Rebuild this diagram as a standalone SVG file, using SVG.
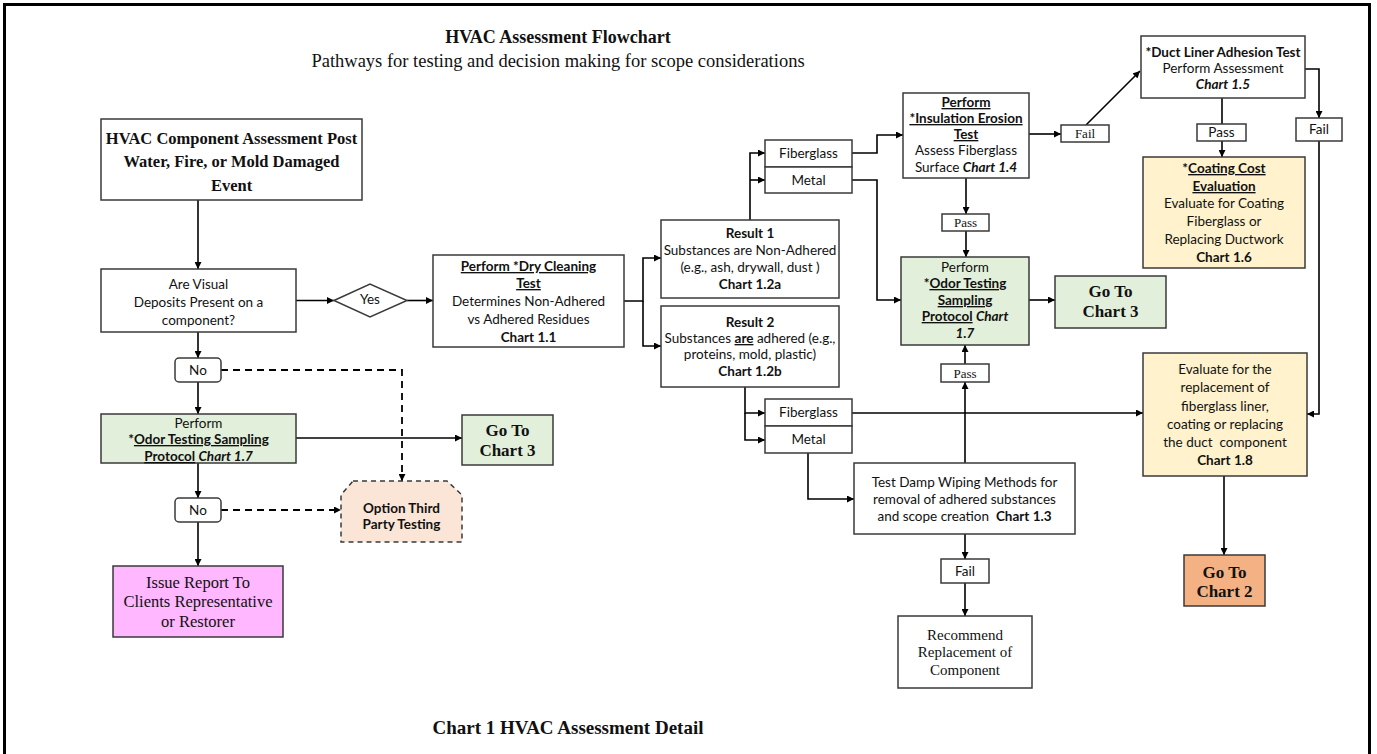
<svg xmlns="http://www.w3.org/2000/svg" width="1377" height="754" viewBox="0 0 1377 754">
<style>
.bx{fill:#fff;stroke:#3a3a3a;stroke-width:1.5}
.green{fill:#E2EFDA}
.yellow{fill:#FFF2CC}
.orange{fill:#F4B183}
.pink{fill:#FFB7FF}
.peach{fill:#FBE5D6;stroke-dasharray:5 4}
.c{font-family:Lato,"Liberation Sans",sans-serif;font-size:13.5px;fill:#111;text-anchor:middle}
.s{font-family:"Liberation Serif","Times New Roman",serif;fill:#111;text-anchor:middle}
.b{font-weight:bold}
.i{font-style:italic}
.u{text-decoration:underline}
.conn path{fill:none;stroke:#000;stroke-width:1.6}
.conn path.dash{stroke-dasharray:7 5;stroke-width:1.8}
</style>
<defs>
<marker id="ah" viewBox="0 0 10 10" refX="10" refY="5" markerWidth="8" markerHeight="7" orient="auto" markerUnits="userSpaceOnUse">
<path d="M0,0 L10,5 L0,10 Z" fill="#000"/>
</marker>
</defs>
<rect x="0" y="0" width="1377" height="754" fill="#fff"/>
<path d="M4.5,754 V4.5 H1369.5 V754" fill="none" stroke="#000" stroke-width="3"/>

<g id="titles">
<text class="s b" x="558" y="43" font-size="18">HVAC Assessment Flowchart</text>
<text class="s" x="558" y="67" font-size="18.5">Pathways for testing and decision making for scope considerations</text>
<text class="s b" x="568" y="734" font-size="19">Chart 1 HVAC Assessment Detail</text>
</g>

<g class="conn" id="connectors">
<path d="M198,200 V269" marker-end="url(#ah)"/>
<path d="M296,300.5 H334" marker-end="url(#ah)"/>
<path d="M407,300.5 H433" marker-end="url(#ah)"/>
<path d="M624,301 H643 V258 H661" marker-end="url(#ah)"/>
<path d="M643,301 V346 H661" marker-end="url(#ah)"/>
<path d="M750,220 V153 H765" marker-end="url(#ah)"/>
<path d="M750,180 H765" marker-end="url(#ah)"/>
<path d="M852,153 H877 V135 H903" marker-end="url(#ah)"/>
<path d="M852,180 H877 V300 H901" marker-end="url(#ah)"/>
<path d="M966,178 V214" marker-end="url(#ah)"/>
<path d="M966,231 V257" marker-end="url(#ah)"/>
<path d="M1029,300 H1055" marker-end="url(#ah)"/>
<path d="M1029,134 H1061" marker-end="url(#ah)"/>
<path d="M1086,125 L1140,71" marker-end="url(#ah)"/>
<path d="M1222,98 V124"/>
<path d="M1222,141 V157" marker-end="url(#ah)"/>
<path d="M1305,69 H1319 V118" marker-end="url(#ah)"/>
<path d="M1319,141 V414 H1307" marker-end="url(#ah)"/>
<path d="M852,413 H1143" marker-end="url(#ah)"/>
<path d="M745,387 V413 H765" marker-end="url(#ah)"/>
<path d="M745,413 V440 H765" marker-end="url(#ah)"/>
<path d="M808,453 V499 H854" marker-end="url(#ah)"/>
<path d="M965,463 V382" marker-end="url(#ah)"/>
<path d="M965,364 V345" marker-end="url(#ah)"/>
<path d="M965,534 V559" marker-end="url(#ah)"/>
<path d="M965,583 V616" marker-end="url(#ah)"/>
<path d="M1224,476 V555" marker-end="url(#ah)"/>
<path d="M198,332 V358" marker-end="url(#ah)"/>
<path d="M198,382 V414" marker-end="url(#ah)"/>
<path class="dash" d="M221,370 H402 V481" marker-end="url(#ah)"/>
<path d="M296,438 H462" marker-end="url(#ah)"/>
<path d="M198,463 V498" marker-end="url(#ah)"/>
<path class="dash" d="M221,510 H341" marker-end="url(#ah)"/>
<path d="M198,522 V566" marker-end="url(#ah)"/>
</g>

<g id="n-start">
<rect class="bx" x="101" y="119" width="261" height="81"/>
<text class="s b" font-size="16.5"><tspan x="231.5" y="144">HVAC Component Assessment Post</tspan><tspan x="231.5" y="167">Water, Fire, or Mold Damaged</tspan><tspan x="231.5" y="191">Event</tspan></text>
</g>

<g id="n-visual">
<rect class="bx" x="101" y="269" width="195" height="63"/>
<text class="c" font-size="14.5"><tspan x="198.5" y="289">Are Visual</tspan><tspan x="198.5" y="307">Deposits Present on a</tspan><tspan x="198.5" y="325">component?</tspan></text>
</g>

<g id="n-yes">
<polygon class="bx" points="334,300.5 370,284 407,300.5 370,317"/>
<text class="c" x="370" y="304" font-size="9.5">Yes</text>
</g>

<g id="n-dry">
<rect class="bx" x="433" y="255" width="191" height="92"/>
<text class="c" font-size="15"><tspan x="528.5" y="271" class="b u">Perform *Dry Cleaning</tspan><tspan x="528.5" y="288" class="b u">Test</tspan><tspan x="528.5" y="306">Determines Non-Adhered</tspan><tspan x="528.5" y="324">vs Adhered Residues</tspan><tspan x="528.5" y="342" class="b">Chart 1.1</tspan></text>
</g>

<g id="n-result1">
<rect class="bx" x="661" y="220" width="178" height="78"/>
<text class="c"><tspan x="750" y="238" class="b">Result 1</tspan><tspan x="750" y="255">Substances are Non-Adhered</tspan><tspan x="750" y="272">(e.g., ash, drywall, dust )</tspan><tspan x="750" y="289" class="b">Chart 1.2a</tspan></text>
</g>

<g id="n-result2">
<rect class="bx" x="661" y="306" width="178" height="81"/>
<text class="c"><tspan x="750" y="327" class="b">Result 2</tspan><tspan x="750" y="343">Substances <tspan class="b u">are</tspan> adhered (e.g.,</tspan><tspan x="750" y="359">proteins, mold, plastic)</tspan><tspan x="750" y="376" class="b">Chart 1.2b</tspan></text>
</g>

<g id="n-fiber1">
<rect class="bx" x="765" y="140" width="87" height="27"/>
<text class="c" x="808.5" y="158">Fiberglass</text>
</g>
<g id="n-metal1">
<rect class="bx" x="765" y="167" width="87" height="26"/>
<text class="c" x="808.5" y="185">Metal</text>
</g>

<g id="n-erosion">
<rect class="bx" x="903" y="93" width="126" height="85"/>
<text class="c"><tspan x="966" y="107" class="b u">Perform</tspan><tspan x="966" y="123" class="b u">*Insulation Erosion</tspan><tspan x="966" y="139" class="b u">Test</tspan><tspan x="966" y="155">Assess Fiberglass</tspan><tspan x="966" y="172">Surface <tspan class="b i">Chart 1.4</tspan></tspan></text>
</g>

<g id="n-pass1">
<rect class="bx" x="942" y="214" width="47" height="17"/>
<text class="s" x="965.5" y="227" font-size="13">Pass</text>
</g>

<g id="n-odor2">
<rect class="bx green" x="901" y="257" width="128" height="88"/>
<text class="c"><tspan x="965" y="272">Perform</tspan><tspan x="965" y="288" class="b">*<tspan class="u">Odor Testing</tspan></tspan><tspan x="965" y="305" class="b u">Sampling</tspan><tspan x="965" y="321" class="b"><tspan class="u">Protocol</tspan> <tspan class="i">Chart</tspan></tspan><tspan x="965" y="338" class="b i">1.7</tspan></text>
</g>

<g id="n-goto3b">
<rect class="bx green" x="1055" y="276" width="111" height="52"/>
<text class="s b" font-size="17"><tspan x="1110.5" y="297">Go To</tspan><tspan x="1110.5" y="317">Chart 3</tspan></text>
</g>

<g id="n-fail1">
<rect class="bx" x="1061" y="125" width="48" height="17"/>
<text class="s" x="1085" y="138" font-size="13">Fail</text>
</g>

<g id="n-duct">
<rect class="bx" x="1141" y="36" width="164" height="62"/>
<text class="c"><tspan x="1223" y="57" class="b">*Duct Liner Adhesion Test</tspan><tspan x="1223" y="73">Perform Assessment</tspan><tspan x="1223" y="89" class="b i">Chart 1.5</tspan></text>
</g>

<g id="n-pass2">
<rect class="bx" x="1197" y="124" width="49" height="17"/>
<text class="c" x="1221.5" y="137">Pass</text>
</g>

<g id="n-fail2">
<rect class="bx" x="1296" y="118" width="46" height="23"/>
<text class="c" x="1319" y="134">Fail</text>
</g>

<g id="n-coating">
<rect class="bx yellow" x="1143" y="157" width="162" height="111"/>
<text class="c"><tspan x="1224" y="173" class="b">*<tspan class="u">Coating Cost</tspan></tspan><tspan x="1224" y="191" class="b u">Evaluation</tspan><tspan x="1224" y="208">Evaluate for Coating</tspan><tspan x="1224" y="226">Fiberglass or</tspan><tspan x="1224" y="244">Replacing Ductwork</tspan><tspan x="1224" y="262" class="b">Chart 1.6</tspan></text>
</g>

<g id="n-eval">
<rect class="bx yellow" x="1143" y="353" width="164" height="123"/>
<text class="c"><tspan x="1225" y="374">Evaluate for the</tspan><tspan x="1225" y="392">replacement of</tspan><tspan x="1225" y="411">fiberglass liner,</tspan><tspan x="1225" y="429">coating or replacing</tspan><tspan x="1225" y="447">the duct&#160; component</tspan><tspan x="1225" y="465" class="b">Chart 1.8</tspan></text>
</g>

<g id="n-goto2">
<rect class="bx orange" x="1184" y="555" width="81" height="51"/>
<text class="s b" font-size="17"><tspan x="1224.5" y="578">Go To</tspan><tspan x="1224.5" y="597">Chart 2</tspan></text>
</g>

<g id="n-fiber2">
<rect class="bx" x="765" y="399" width="87" height="27"/>
<text class="c" x="808.5" y="417">Fiberglass</text>
</g>
<g id="n-metal2">
<rect class="bx" x="765" y="426" width="87" height="27"/>
<text class="c" x="808.5" y="444">Metal</text>
</g>

<g id="n-damp">
<rect class="bx" x="854" y="463" width="221" height="71"/>
<text class="c" font-size="14"><tspan x="964.5" y="487">Test Damp Wiping Methods for</tspan><tspan x="964.5" y="504">removal of adhered substances</tspan><tspan x="964.5" y="521">and scope creation&#160; <tspan class="b">Chart 1.3</tspan></tspan></text>
</g>

<g id="n-pass3">
<rect class="bx" x="941" y="364" width="48" height="18"/>
<text class="s" x="965" y="377.5" font-size="13">Pass</text>
</g>

<g id="n-fail3">
<rect class="bx" x="941" y="559" width="48" height="24"/>
<text class="c" x="965" y="576">Fail</text>
</g>

<g id="n-recommend">
<rect class="bx" x="898" y="616" width="134" height="72"/>
<text class="s" font-size="15"><tspan x="965" y="640">Recommend</tspan><tspan x="965" y="657">Replacement of</tspan><tspan x="965" y="675">Component</tspan></text>
</g>

<g id="n-no1">
<rect class="bx" x="175" y="358" width="46" height="24" rx="4"/>
<text class="c" x="198" y="375">No</text>
</g>

<g id="n-odor1">
<rect class="bx green" x="101" y="414" width="195" height="49"/>
<text class="c"><tspan x="198.5" y="428">Perform</tspan><tspan x="198.5" y="444" class="b">*<tspan class="u">Odor Testing Sampling</tspan></tspan><tspan x="198.5" y="461" class="b"><tspan class="u">Protocol</tspan> <tspan class="i">Chart 1.7</tspan></tspan></text>
</g>

<g id="n-goto3a">
<rect class="bx green" x="462" y="415" width="91" height="50"/>
<text class="s b" font-size="17"><tspan x="507.5" y="436">Go To</tspan><tspan x="507.5" y="456">Chart 3</tspan></text>
</g>

<g id="n-no2">
<rect class="bx" x="175" y="498" width="46" height="24" rx="4"/>
<text class="c" x="198" y="515">No</text>
</g>

<g id="n-option">
<path class="bx peach" d="M353,481 H447 L462,495 V542 H341 V495 Z"/>
<text class="c b" font-size="13.5"><tspan x="401.5" y="513">Option Third</tspan><tspan x="401.5" y="529">Party Testing</tspan></text>
</g>

<g id="n-issue">
<rect class="bx pink" x="113" y="566" width="170" height="71"/>
<text class="s" font-size="16.5"><tspan x="198" y="588">Issue Report To</tspan><tspan x="198" y="607">Clients Representative</tspan><tspan x="198" y="627">or Restorer</tspan></text>
</g>
</svg>
